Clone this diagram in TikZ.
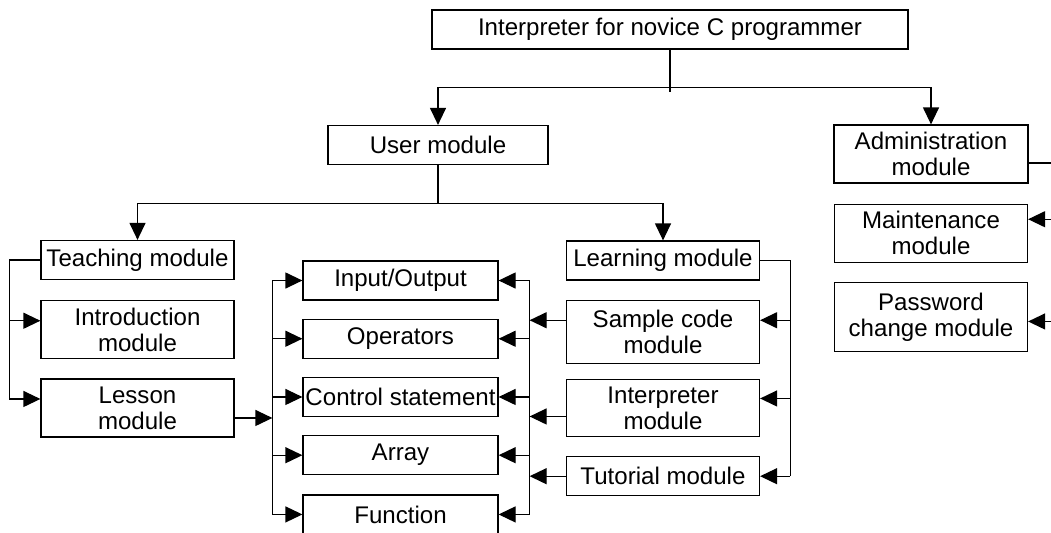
\documentclass[tikz,border=0pt]{standalone}
\usepackage{fontspec}
\setmainfont{Liberation Sans}
\usetikzlibrary{positioning, calc, arrows.meta}

\begin{document}
\begin{tikzpicture}[
  module/.style={rectangle, draw, line width=0.7pt, minimum width=3.86cm, minimum height=0.78cm, inner sep=0pt, align=center, font=\fontsize{13.7}{14.8}\selectfont},
  tallmodule/.style={module, minimum height=1.16cm},
  link/.style={line width=0.7pt},
  arrow/.style={link, -{Triangle[length=0.34cm, width=0.32cm]}}
]
    \useasboundingbox (0,0) rectangle (21.02,-10.64);

    % Root and first level
    \node[module, minimum width=9.52cm] (root) at (13.4,-0.59) {Interpreter for novice C programmer};
    \node[module, minimum width=4.4cm] (user) at (8.76,-2.9) {User module};
    \node[tallmodule, minimum width=3.88cm] (admin) at (18.62,-3.08) {Administration\\module};

    % Administration side
    \node[tallmodule, below=0.4cm of admin] (maint) {Maintenance\\module};
    \node[tallmodule, minimum height=1.38cm, below=0.38cm of maint] (passwd) {Password\\change module};

    % Teaching side
    \node[module] (teach) at (2.75,-5.2) {Teaching module};
    \node[tallmodule, below=0.4cm of teach] (intro) {Introduction\\module};
    \node[tallmodule, below=0.38cm of intro] (lesson) {Lesson\\module};

    % Topics
    \node[module, minimum width=3.9cm] (io) at (8.01,-5.61) {Input/Output};
    \node[module, minimum width=3.9cm, below=0.36cm of io] (ops) {Operators};
    \node[module, minimum width=3.9cm, below=0.36cm of ops] (ctrl) {Control statement};
    \node[module, minimum width=3.9cm, below=0.36cm of ctrl] (arr) {Array};
    \node[module, minimum width=3.9cm, below=0.38cm of arr] (func) {Function};

    % Learning side
    \node[module] (learn) at (13.26,-5.21) {Learning module};
    \node[tallmodule, minimum height=1.26cm, below=0.38cm of learn] (sample) {Sample code\\module};
    \node[tallmodule, minimum height=1.14cm, below=0.3cm of sample] (interp) {Interpreter\\module};
    \node[module, below=0.38cm of interp] (tutor) {Tutorial module};

    % Junctions and buses
    \coordinate (rootj) at ($(root.south)+(0,-0.76)$);
    \coordinate (userj) at ($(user.south)+(0,-0.76)$);
    \coordinate (tbus) at ($(teach.west)+(-0.62,0)$);
    \coordinate (lbus) at ($(io.west)+(-0.6,0)$);
    \coordinate (rbus) at ($(io.east)+(0.62,0)$);
    \coordinate (sbus) at ($(learn.east)+(0.6,0)$);
    \coordinate (adminout) at ($(admin.east)+(0,-0.18)$);
    \coordinate (abus) at ($(adminout)+(0.6,0)$);

    % Ports
    \coordinate (introin) at ($(intro.west)+(0,0.18)$);
    \coordinate (lessonin) at ($(lesson.west)+(0,0.18)$);
    \coordinate (lessonout) at ($(lesson.east)+(0,-0.2)$);
    \coordinate (sampleout) at ($(sample.west)+(0,0.23)$);
    \coordinate (interpout) at ($(interp.west)+(0,-0.17)$);
    \coordinate (samplein) at ($(sample.east)+(0,0.23)$);
    \coordinate (interpin) at ($(interp.east)+(0,0.19)$);
    \coordinate (maintin) at ($(maint.east)+(0,0.28)$);
    \coordinate (passwdin) at ($(passwd.east)+(0,-0.09)$);

    % Top tree
    \draw[link] (root.south) -- ($(rootj)+(0,-0.08)$);
    \draw[arrow] (rootj) -| (user);
    \draw[arrow] (rootj) -| (admin);
    \draw[link] (user.south) -- (userj);
    \draw[arrow] (userj) -| (teach);
    \draw[arrow] (userj) -| (learn);

    % Teaching links
    \draw[arrow] (teach.west) -- (tbus) |- (lessonin);
    \draw[arrow] (tbus |- introin) -- (introin);
    \draw[arrow] (lessonout) -- (lbus |- lessonout);

    % Left topic bus
    \draw[link] (lbus) -- (lbus |- func.west);
    \draw[arrow] (lbus |- io.west) -- (io.west);
    \draw[arrow] (lbus |- ops.west) -- (ops.west);
    \draw[arrow] (lbus |- ctrl.west) -- (ctrl.west);
    \draw[arrow] (lbus |- arr.west) -- (arr.west);
    \draw[arrow] (lbus |- func.west) -- (func.west);

    % Right topic bus
    \draw[link] (rbus) -- (rbus |- func.east);
    \draw[arrow] (rbus |- io.east) -- (io.east);
    \draw[arrow] (rbus |- ops.east) -- (ops.east);
    \draw[arrow] (rbus |- ctrl.east) -- (ctrl.east);
    \draw[arrow] (rbus |- arr.east) -- (arr.east);
    \draw[arrow] (rbus |- func.east) -- (func.east);
    \draw[arrow] (sampleout) -- (rbus |- sampleout);
    \draw[arrow] (interpout) -- (rbus |- interpout);
    \draw[arrow] (tutor.west) -- (rbus |- tutor.west);

    % Learning links
    \draw[link] (learn.east) -- (sbus) -- (sbus |- tutor.east);
    \draw[arrow] (sbus |- samplein) -- (samplein);
    \draw[arrow] (sbus |- interpin) -- (interpin);
    \draw[arrow] (sbus |- tutor.east) -- (tutor.east);

    % Administration links
    \draw[link] (adminout) -- (abus) -- (abus |- passwdin);
    \draw[arrow] (abus |- maintin) -- (maintin);
    \draw[arrow] (abus |- passwdin) -- (passwdin);

\end{tikzpicture}
\end{document}
